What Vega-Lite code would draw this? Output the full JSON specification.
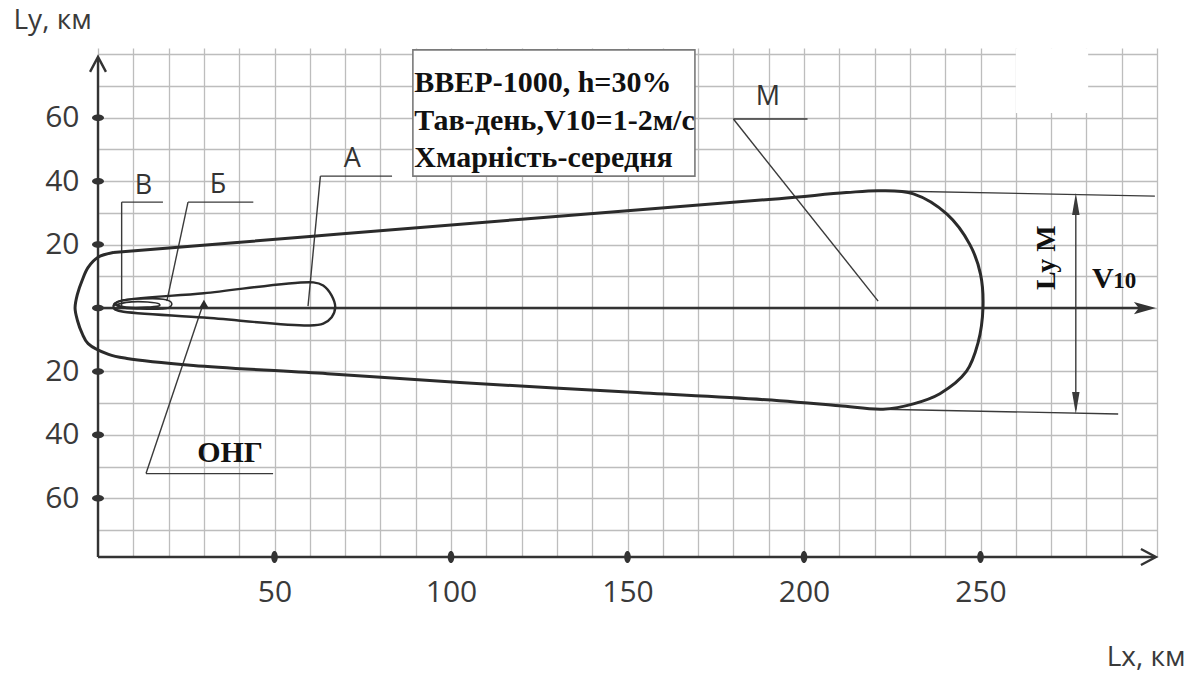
{
  "$schema": "https://vega.github.io/schema/vega-lite/v6.json",
  "width": 1059,
  "height": 509,
  "autosize": {"type": "none"},
  "padding": {"left": 98, "top": 48, "right": 37, "bottom": 116},
  "background": "white",
  "config": {"view": {"stroke": null}},
  "datasets": {
    "contours": [
      {"zone": "M", "ord": 1, "x": 4.3, "y": 17.5},
      {"zone": "M", "ord": 2, "x": 60, "y": 22.55},
      {"zone": "M", "ord": 3, "x": 120, "y": 28.0},
      {"zone": "M", "ord": 4, "x": 193, "y": 34.5},
      {"zone": "M", "ord": 5, "x": 212, "y": 36.4},
      {"zone": "M", "ord": 6, "x": 221.5, "y": 37},
      {"zone": "M", "ord": 7, "x": 231, "y": 36},
      {"zone": "M", "ord": 8, "x": 240.5, "y": 29.6},
      {"zone": "M", "ord": 9, "x": 247, "y": 20},
      {"zone": "M", "ord": 10, "x": 250, "y": 10.7},
      {"zone": "M", "ord": 11, "x": 250.7, "y": 0},
      {"zone": "M", "ord": 12, "x": 249.3, "y": -11},
      {"zone": "M", "ord": 13, "x": 246, "y": -20},
      {"zone": "M", "ord": 14, "x": 238.5, "y": -27},
      {"zone": "M", "ord": 15, "x": 231, "y": -30.2},
      {"zone": "M", "ord": 16, "x": 222.4, "y": -31.9},
      {"zone": "M", "ord": 17, "x": 210, "y": -30.8},
      {"zone": "M", "ord": 18, "x": 193, "y": -29.2},
      {"zone": "M", "ord": 19, "x": 150, "y": -26.5},
      {"zone": "M", "ord": 20, "x": 102.5, "y": -23.5},
      {"zone": "M", "ord": 21, "x": 65, "y": -20.7},
      {"zone": "M", "ord": 22, "x": 27, "y": -18.1},
      {"zone": "M", "ord": 23, "x": 8.2, "y": -15.9},
      {"zone": "M", "ord": 24, "x": 3, "y": -14.6},
      {"zone": "M", "ord": 25, "x": -2.8, "y": -11.2},
      {"zone": "M", "ord": 26, "x": -4.5, "y": -8},
      {"zone": "M", "ord": 27, "x": -5.8, "y": -4},
      {"zone": "M", "ord": 28, "x": -6.5, "y": 0},
      {"zone": "M", "ord": 29, "x": -5.8, "y": 4.5},
      {"zone": "M", "ord": 30, "x": -4.5, "y": 8.7},
      {"zone": "M", "ord": 31, "x": -2.8, "y": 12.8},
      {"zone": "M", "ord": 32, "x": 0, "y": 16},
      {"zone": "M", "ord": 33, "x": 4.3, "y": 17.5},
      {"zone": "A", "ord": 1, "x": 4.3, "y": 0.6},
      {"zone": "A", "ord": 2, "x": 5.5, "y": 1.9},
      {"zone": "A", "ord": 3, "x": 30, "y": 4.65},
      {"zone": "A", "ord": 4, "x": 61, "y": 8.1},
      {"zone": "A", "ord": 5, "x": 63.8, "y": 7.1},
      {"zone": "A", "ord": 6, "x": 66.2, "y": 3.9},
      {"zone": "A", "ord": 7, "x": 67.2, "y": 0.3},
      {"zone": "A", "ord": 8, "x": 66.2, "y": -2.9},
      {"zone": "A", "ord": 9, "x": 63.8, "y": -4.9},
      {"zone": "A", "ord": 10, "x": 60, "y": -5.5},
      {"zone": "A", "ord": 11, "x": 30, "y": -3.0},
      {"zone": "A", "ord": 12, "x": 6.5, "y": -1.0},
      {"zone": "A", "ord": 13, "x": 4.7, "y": -0.3},
      {"zone": "A", "ord": 14, "x": 4.3, "y": 0.6},
      {"zone": "B", "ord": 1, "x": 4.4, "y": 1.3},
      {"zone": "B", "ord": 2, "x": 6.5, "y": 2.4},
      {"zone": "B", "ord": 3, "x": 12, "y": 2.9},
      {"zone": "B", "ord": 4, "x": 18.5, "y": 2.8},
      {"zone": "B", "ord": 5, "x": 20.6, "y": 2.0},
      {"zone": "B", "ord": 6, "x": 20.9, "y": 1.1},
      {"zone": "B", "ord": 7, "x": 20, "y": 0.1},
      {"zone": "B", "ord": 8, "x": 18, "y": -0.3},
      {"zone": "B", "ord": 9, "x": 12, "y": -0.3},
      {"zone": "B", "ord": 10, "x": 6.5, "y": 0.2},
      {"zone": "B", "ord": 11, "x": 4.4, "y": 1.3},
      {"zone": "V", "ord": 1, "x": 5.0, "y": 1.0},
      {"zone": "V", "ord": 2, "x": 8, "y": 1.8},
      {"zone": "V", "ord": 3, "x": 14, "y": 1.9},
      {"zone": "V", "ord": 4, "x": 17.3, "y": 1.3},
      {"zone": "V", "ord": 5, "x": 17.5, "y": 0.8},
      {"zone": "V", "ord": 6, "x": 14, "y": 0.3},
      {"zone": "V", "ord": 7, "x": 8, "y": 0.3},
      {"zone": "V", "ord": 8, "x": 5.0, "y": 1.0}
    ],
    "segs": [
      {"grp": "axis", "x": 0, "y": -78.5, "x2": 0, "y2": 78.8},
      {"grp": "axis", "x": 0, "y": -78.5, "x2": 299.4, "y2": -78.5},
      {"grp": "wind", "x": 0, "y": 0, "x2": 296, "y2": 0},
      {"grp": "thin", "x": 6.7, "y": 0.5, "x2": 6.7, "y2": 33.4},
      {"grp": "thin", "x": 6.7, "y": 33.4, "x2": 18.4, "y2": 33.4},
      {"grp": "thin", "x": 19.5, "y": 2.2, "x2": 25.5, "y2": 33.4},
      {"grp": "thin", "x": 25.5, "y": 33.4, "x2": 44, "y2": 33.4},
      {"grp": "thin", "x": 59.5, "y": 0.6, "x2": 63, "y2": 41.6},
      {"grp": "thin", "x": 63, "y": 41.6, "x2": 83.3, "y2": 41.6},
      {"grp": "thin", "x": 221, "y": 2.2, "x2": 180, "y2": 59.6},
      {"grp": "thin", "x": 180, "y": 59.6, "x2": 201, "y2": 59.6},
      {"grp": "thin", "x": 29.5, "y": 0.3, "x2": 13.6, "y2": -52.2},
      {"grp": "thin", "x": 13.6, "y": -52.2, "x2": 49.6, "y2": -52.2},
      {"grp": "thin", "x": 221.5, "y": 37.0, "x2": 299.4, "y2": 35.3},
      {"grp": "thin", "x": 222.4, "y": -31.9, "x2": 289, "y2": -33.4},
      {"grp": "thin", "x": 277, "y": 34.5, "x2": 277, "y2": -32}
    ],
    "heads": [
      {"kind": "yaxis", "x": 0, "y": 79.2},
      {"kind": "xaxis", "x": 299.7, "y": -78.5},
      {"kind": "wind", "x": 299.7, "y": 0},
      {"kind": "dimup", "x": 277, "y": 36.3},
      {"kind": "dimdown", "x": 277, "y": -33.4}
    ],
    "dots": [
      {"axis": "x", "x": 50, "y": -78.5},
      {"axis": "x", "x": 100, "y": -78.5},
      {"axis": "x", "x": 150, "y": -78.5},
      {"axis": "x", "x": 200, "y": -78.5},
      {"axis": "x", "x": 250, "y": -78.5},
      {"axis": "y", "x": 0, "y": 60},
      {"axis": "y", "x": 0, "y": 40},
      {"axis": "y", "x": 0, "y": 20},
      {"axis": "y", "x": 0, "y": 0},
      {"axis": "y", "x": 0, "y": -20},
      {"axis": "y", "x": 0, "y": -40},
      {"axis": "y", "x": 0, "y": -60}
    ],
    "patches": [
      {"kind": "box", "x": 89.2, "x2": 169.1, "y": 41.6, "y2": 81.4},
      {"kind": "blank", "x": 260, "x2": 280.5, "y": 61.5, "y2": 81.9}
    ],
    "boxText": [
      {"x": 89.6, "y": 68.0, "label": "ВВЕР-1000, h=30%"},
      {"x": 89.6, "y": 56.0, "label": "Тав-день,V10=1-2м/с"},
      {"x": 89.6, "y": 44.4, "label": "Хмарність-середня"}
    ],
    "letters": [
      {"x": 12.9, "y": 38.6, "label": "В"},
      {"x": 34.0, "y": 38.9, "label": "Б"},
      {"x": 72.0, "y": 47.1, "label": "А"},
      {"x": 189.8, "y": 66.4, "label": "М"}
    ],
    "onh": [{"x": 30, "y": 1.3}],
    "serifLabels": [
      {"kind": "ong", "x": 37.4, "y": -48.7, "label": "ОНГ"},
      {"kind": "v", "x": 281.6, "y": 6.2, "label": "V"},
      {"kind": "sub", "x": 287.6, "y": 6.2, "label": "10"},
      {"kind": "ly", "x": 268.8, "y": 15.9, "label": "Ly M"}
    ]
  },
  "encoding": {
    "x": {
      "field": "x", "type": "quantitative",
      "scale": {"domain": [0, 300], "nice": false, "zero": false},
      "axis": {
        "values": [0,10,20,30,40,50,60,70,80,90,100,110,120,130,140,150,160,170,180,190,200,210,220,230,240,250,260,270,280,290,300],
        "grid": true, "gridColor": "#bdbdbd", "gridWidth": 1.3,
        "domain": false, "ticks": false,
        "labelExpr": "datum.value % 50 == 0 && datum.value > 0 && datum.value < 300 ? datum.label : ''",
        "labelFont": "Open Sans", "labelFontSize": 30, "labelColor": "#3a3a3a",
        "labelPadding": 20, "labelOverlap": false, "labelFlush": false,
        "title": "Lx, км", "titleFont": "Open Sans", "titleFontSize": 28, "titleFontWeight": "normal",
        "titleColor": "#3a3a3a", "titleX": 1087, "titleY": 108, "titleAlign": "right", "titleBaseline": "alphabetic"
      }
    },
    "y": {
      "field": "y", "type": "quantitative",
      "scale": {"domain": [-78.5, 82], "nice": false, "zero": false},
      "axis": {
        "values": [-70,-60,-50,-40,-30,-20,-10,0,10,20,30,40,50,60,70,80],
        "grid": true, "gridColor": "#bdbdbd", "gridWidth": 1.3,
        "domain": false, "ticks": false,
        "labelExpr": "(abs(datum.value) == 20 || abs(datum.value) == 40 || abs(datum.value) == 60) ? '' + abs(datum.value) : ''",
        "labelFont": "Open Sans", "labelFontSize": 30, "labelColor": "#3a3a3a",
        "labelPadding": 19, "labelOverlap": false, "labelFlush": false,
        "title": "Ly, км", "titleFont": "Open Sans", "titleFontSize": 28, "titleFontWeight": "normal",
        "titleColor": "#3a3a3a", "titleX": -85, "titleY": -20, "titleAngle": 0, "titleAlign": "left", "titleBaseline": "alphabetic"
      }
    }
  },
  "layer": [
    {
      "data": {"name": "patches"},
      "transform": [{"filter": "datum.kind == 'blank'"}],
      "mark": {"type": "rect", "fill": "white"},
      "encoding": {"x2": {"field": "x2"}, "y2": {"field": "y2"}}
    },
    {
      "data": {"name": "patches"},
      "transform": [{"filter": "datum.kind == 'box'"}],
      "mark": {"type": "rect", "fill": "white", "stroke": "#7a7a7a", "strokeWidth": 1.6},
      "encoding": {"x2": {"field": "x2"}, "y2": {"field": "y2"}}
    },
    {
      "data": {"name": "segs"},
      "transform": [{"filter": "datum.grp == 'thin'"}],
      "mark": {"type": "rule", "color": "#3a3a3a", "strokeWidth": 1.4},
      "encoding": {"x2": {"field": "x2"}, "y2": {"field": "y2"}}
    },
    {
      "data": {"name": "segs"},
      "transform": [{"filter": "datum.grp == 'wind'"}],
      "mark": {"type": "rule", "color": "#333333", "strokeWidth": 2.6},
      "encoding": {"x2": {"field": "x2"}, "y2": {"field": "y2"}}
    },
    {
      "data": {"name": "segs"},
      "transform": [{"filter": "datum.grp == 'axis'"}],
      "mark": {"type": "rule", "color": "#333333", "strokeWidth": 2.4},
      "encoding": {"x2": {"field": "x2"}, "y2": {"field": "y2"}}
    },
    {
      "data": {"name": "contours"},
      "transform": [{"filter": "datum.zone == 'M'"}],
      "mark": {"type": "line", "color": "#2b2b2b", "strokeWidth": 3, "interpolate": "catmull-rom"},
      "encoding": {"order": {"field": "ord", "type": "quantitative"}, "detail": {"field": "zone"}}
    },
    {
      "data": {"name": "contours"},
      "transform": [{"filter": "datum.zone == 'A'"}],
      "mark": {"type": "line", "color": "#2b2b2b", "strokeWidth": 2.4, "interpolate": "catmull-rom"},
      "encoding": {"order": {"field": "ord", "type": "quantitative"}, "detail": {"field": "zone"}}
    },
    {
      "data": {"name": "contours"},
      "transform": [{"filter": "datum.zone == 'B' || datum.zone == 'V'"}],
      "mark": {"type": "line", "color": "#2b2b2b", "strokeWidth": 1.6, "interpolate": "catmull-rom"},
      "encoding": {"order": {"field": "ord", "type": "quantitative"}, "detail": {"field": "zone"}}
    },
    {
      "data": {"name": "heads"},
      "transform": [{"filter": "datum.kind == 'yaxis'"}],
      "mark": {"type": "point", "shape": "M-0.53,1L0,0L0.53,1", "size": 900, "filled": false, "color": "#333333", "strokeWidth": 2.4, "opacity": 1}
    },
    {
      "data": {"name": "heads"},
      "transform": [{"filter": "datum.kind == 'xaxis'"}],
      "mark": {"type": "point", "shape": "M-1,-0.53L0,0L-1,0.53", "size": 900, "filled": false, "color": "#333333", "strokeWidth": 2.4, "opacity": 1}
    },
    {
      "data": {"name": "heads"},
      "transform": [{"filter": "datum.kind == 'wind'"}],
      "mark": {"type": "point", "shape": "M0,0L-1,-0.28L-0.78,0L-1,0.28Z", "size": 1936, "filled": true, "color": "#333333", "opacity": 1}
    },
    {
      "data": {"name": "heads"},
      "transform": [{"filter": "datum.kind == 'dimup'"}],
      "mark": {"type": "point", "shape": "M0,0L-0.17,1L0.17,1Z", "size": 1936, "filled": true, "color": "#3a3a3a", "opacity": 1}
    },
    {
      "data": {"name": "heads"},
      "transform": [{"filter": "datum.kind == 'dimdown'"}],
      "mark": {"type": "point", "shape": "M0,0L-0.17,-1L0.17,-1Z", "size": 1936, "filled": true, "color": "#3a3a3a", "opacity": 1}
    },
    {
      "data": {"name": "dots"},
      "transform": [{"filter": "datum.axis == 'y'"}],
      "mark": {"type": "point", "shape": "M-1,0A1,0.55,0,1,0,1,0A1,0.55,0,1,0,-1,0Z", "size": 144, "filled": true, "color": "#333333", "opacity": 1}
    },
    {
      "data": {"name": "dots"},
      "transform": [{"filter": "datum.axis == 'x'"}],
      "mark": {"type": "point", "shape": "M0,-1A0.55,1,0,1,0,0,1A0.55,1,0,1,0,0,-1Z", "size": 144, "filled": true, "color": "#333333", "opacity": 1}
    },
    {
      "data": {"name": "onh"},
      "mark": {"type": "point", "shape": "triangle-up", "size": 90, "filled": true, "color": "#2b2b2b", "opacity": 1}
    },
    {
      "data": {"name": "boxText"},
      "mark": {"type": "text", "font": "Liberation Serif", "fontWeight": "bold", "fontSize": 30, "align": "left", "baseline": "alphabetic", "color": "#111111"},
      "encoding": {"text": {"field": "label"}}
    },
    {
      "data": {"name": "letters"},
      "mark": {"type": "text", "font": "Open Sans", "fontSize": 27, "align": "center", "baseline": "middle", "color": "#333333"},
      "encoding": {"text": {"field": "label"}}
    },
    {
      "data": {"name": "serifLabels"},
      "transform": [{"filter": "datum.kind == 'ong'"}],
      "mark": {"type": "text", "font": "Liberation Serif", "fontWeight": "bold", "fontSize": 30, "align": "center", "baseline": "alphabetic", "color": "#111111"},
      "encoding": {"text": {"field": "label"}}
    },
    {
      "data": {"name": "serifLabels"},
      "transform": [{"filter": "datum.kind == 'v'"}],
      "mark": {"type": "text", "font": "Liberation Serif", "fontWeight": "bold", "fontSize": 30, "align": "left", "baseline": "alphabetic", "color": "#111111"},
      "encoding": {"text": {"field": "label"}}
    },
    {
      "data": {"name": "serifLabels"},
      "transform": [{"filter": "datum.kind == 'sub'"}],
      "mark": {"type": "text", "font": "Liberation Serif", "fontWeight": "bold", "fontSize": 23, "align": "left", "baseline": "alphabetic", "color": "#111111"},
      "encoding": {"text": {"field": "label"}}
    },
    {
      "data": {"name": "serifLabels"},
      "transform": [{"filter": "datum.kind == 'ly'"}],
      "mark": {"type": "text", "font": "Liberation Serif", "fontWeight": "bold", "fontSize": 28, "align": "center", "baseline": "middle", "angle": 270, "color": "#111111"},
      "encoding": {"text": {"field": "label"}}
    }
  ]
}
